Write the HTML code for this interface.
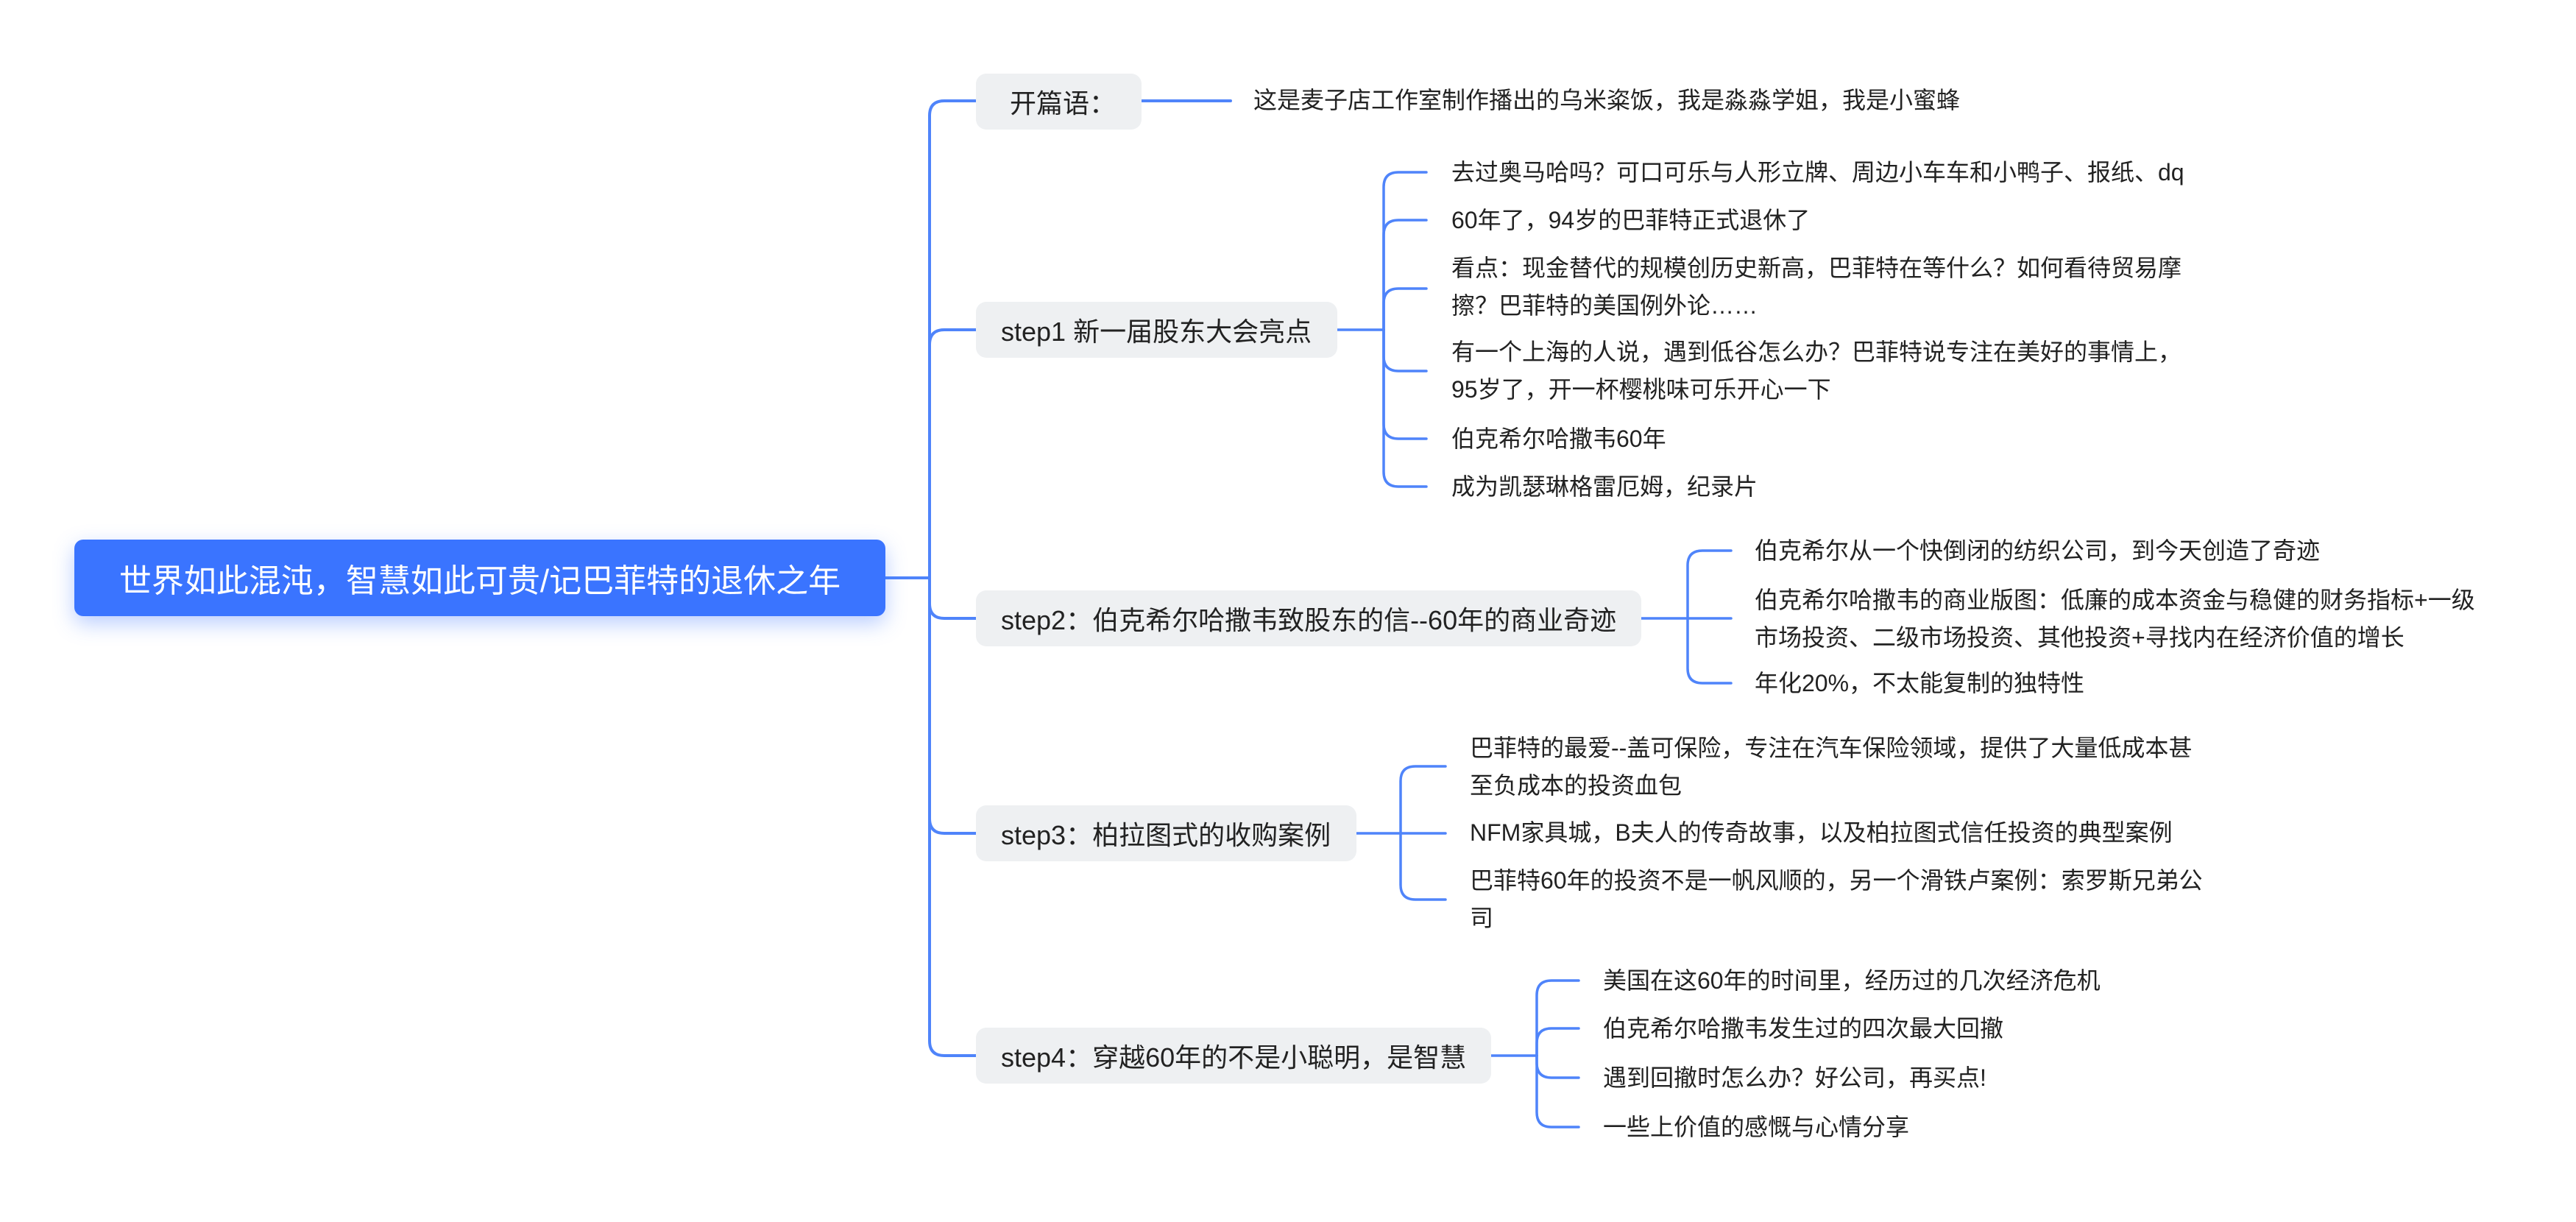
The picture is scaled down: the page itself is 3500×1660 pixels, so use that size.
<!DOCTYPE html>
<html><head><meta charset="utf-8">
<style>
html,body{margin:0;padding:0;background:#fff;}
body{width:3500px;height:1660px;position:relative;overflow:hidden;font-family:"Liberation Sans","Noto Sans CJK SC",sans-serif;}
.root{position:absolute;left:101px;top:733px;width:1102px;height:104px;background:#3a74ff;border-radius:12px;color:#fff;font-size:44px;display:flex;align-items:center;justify-content:center;box-shadow:0 10px 28px rgba(58,116,255,0.35);}
.step{position:absolute;left:1326px;height:76px;background:#eef0f2;border-radius:14px;color:#222;font-size:36px;display:flex;align-items:center;padding-left:46px;box-sizing:border-box;white-space:nowrap;}
.leaf{position:absolute;color:#222;font-size:32px;line-height:51px;white-space:nowrap;}
svg{position:absolute;left:0;top:0;}
</style></head><body>
<svg width="3500" height="1660" fill="none" stroke="#4f84fa" stroke-width="4" stroke-linecap="round">
<path d="M1203,785 H1263"/>
<path d="M1263,785 V157 Q1263,137 1283,137 H1326"/>
<path d="M1263,785 V468 Q1263,448 1283,448 H1326"/>
<path d="M1263,785 V820 Q1263,840 1283,840 H1326"/>
<path d="M1263,785 V1112 Q1263,1132 1283,1132 H1326"/>
<path d="M1263,785 V1414 Q1263,1434 1283,1434 H1326"/>
<path d="M1551,137 H1672"/>
<g stroke-width="3.5">
<path d="M1817,448 H1880"/>
<path d="M1880,448 V254 Q1880,234 1900,234 H1938"/>
<path d="M1880,448 V319 Q1880,299 1900,299 H1938"/>
<path d="M1880,448 V412 Q1880,392 1900,392 H1938"/>
<path d="M1880,448 V484 Q1880,504 1900,504 H1938"/>
<path d="M1880,448 V576 Q1880,596 1900,596 H1938"/>
<path d="M1880,448 V641 Q1880,661 1900,661 H1938"/>
<path d="M2230,840 H2352"/>
<path d="M2293,840 V768 Q2293,748 2313,748 H2352"/>
<path d="M2293,840 V908 Q2293,928 2313,928 H2352"/>
<path d="M1843,1132 H1964"/>
<path d="M1903,1132 V1061 Q1903,1041 1923,1041 H1964"/>
<path d="M1903,1132 V1202 Q1903,1222 1923,1222 H1964"/>
<path d="M2026,1434 H2088"/>
<path d="M2088,1434 V1352 Q2088,1332 2108,1332 H2145"/>
<path d="M2088,1434 V1417 Q2088,1397 2108,1397 H2145"/>
<path d="M2088,1434 V1444 Q2088,1464 2108,1464 H2145"/>
<path d="M2088,1434 V1511 Q2088,1531 2108,1531 H2145"/>
</g>
</svg>

<div class="root">世界如此混沌，智慧如此可贵/记巴菲特的退休之年</div>

<div class="step" style="top:100px;width:225px;">开篇语：</div>
<div class="step" style="top:410px;width:491px;padding-left:34px;">step1 新一届股东大会亮点</div>
<div class="step" style="top:802px;width:904px;padding-left:34px;">step2：伯克希尔哈撒韦致股东的信--60年的商业奇迹</div>
<div class="step" style="top:1094px;width:517px;padding-left:34px;">step3：柏拉图式的收购案例</div>
<div class="step" style="top:1396px;width:700px;padding-left:34px;">step4：穿越60年的不是小聪明，是智慧</div>

<div class="leaf" style="left:1703px;top:111px;">这是麦子店工作室制作播出的乌米粢饭，我是淼淼学姐，我是小蜜蜂</div>

<div class="leaf" style="left:1972px;top:209px;">去过奥马哈吗？可口可乐与人形立牌、周边小车车和小鸭子、报纸、dq</div>
<div class="leaf" style="left:1972px;top:274px;">60年了，94岁的巴菲特正式退休了</div>
<div class="leaf" style="left:1972px;top:339px;">看点：现金替代的规模创历史新高，巴菲特在等什么？如何看待贸易摩<br>擦？巴菲特的美国例外论……</div>
<div class="leaf" style="left:1972px;top:453px;">有一个上海的人说，遇到低谷怎么办？巴菲特说专注在美好的事情上，<br>95岁了，开一杯樱桃味可乐开心一下</div>
<div class="leaf" style="left:1972px;top:571px;">伯克希尔哈撒韦60年</div>
<div class="leaf" style="left:1972px;top:636px;">成为凯瑟琳格雷厄姆，纪录片</div>

<div class="leaf" style="left:2384px;top:723px;">伯克希尔从一个快倒闭的纺织公司，到今天创造了奇迹</div>
<div class="leaf" style="left:2384px;top:790px;">伯克希尔哈撒韦的商业版图：低廉的成本资金与稳健的财务指标+一级<br>市场投资、二级市场投资、其他投资+寻找内在经济价值的增长</div>
<div class="leaf" style="left:2384px;top:903px;">年化20%，不太能复制的独特性</div>

<div class="leaf" style="left:1997px;top:991px;">巴菲特的最爱--盖可保险，专注在汽车保险领域，提供了大量低成本甚<br>至负成本的投资血包</div>
<div class="leaf" style="left:1997px;top:1106px;">NFM家具城，B夫人的传奇故事，以及柏拉图式信任投资的典型案例</div>
<div class="leaf" style="left:1997px;top:1171px;">巴菲特60年的投资不是一帆风顺的，另一个滑铁卢案例：索罗斯兄弟公<br>司</div>

<div class="leaf" style="left:2178px;top:1307px;">美国在这60年的时间里，经历过的几次经济危机</div>
<div class="leaf" style="left:2178px;top:1372px;">伯克希尔哈撒韦发生过的四次最大回撤</div>
<div class="leaf" style="left:2178px;top:1439px;">遇到回撤时怎么办？好公司，再买点!</div>
<div class="leaf" style="left:2178px;top:1506px;">一些上价值的感慨与心情分享</div>
</body></html>
